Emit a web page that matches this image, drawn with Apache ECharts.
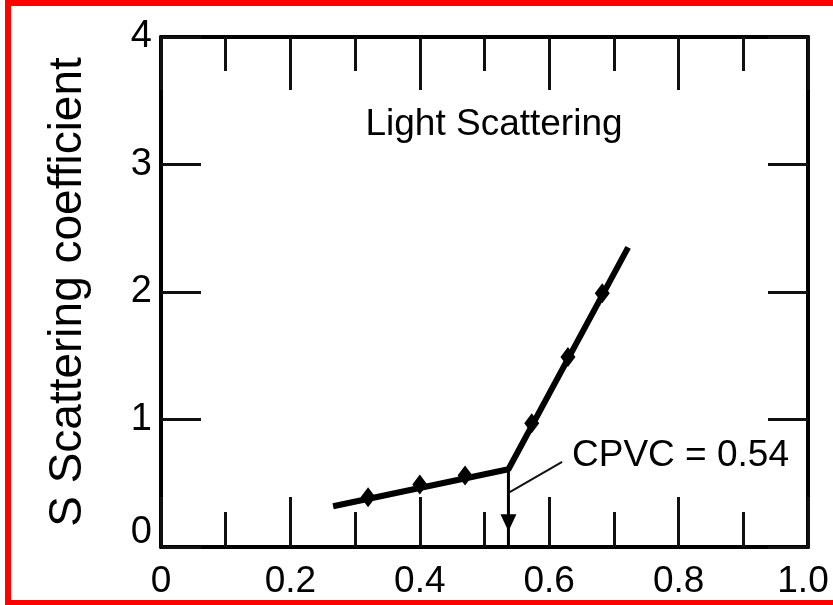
<!DOCTYPE html>
<html><head><meta charset="utf-8">
<script src="https://cdn.jsdelivr.net/npm/echarts@6/dist/echarts.min.js"></script>
<style>html,body{margin:0;padding:0;background:#fff}#c{width:833px;height:605px}</style>
</head><body><div id="c"></div>
<script>
// ---- data ----
const xTickLabels = ['0', '0.2', '0.4', '0.6', '0.8', '1.0'];
const yTickLabels = ['0', '1', '2', '3', '4'];
// measured points (PVC, S)
const pointX = [0.320, 0.400, 0.470, 0.573, 0.629, 0.682];
const pointY = [0.39, 0.49, 0.56, 0.97, 1.49, 1.99];
// two-segment fitted line
const fitX = [0.266, 0.537, 0.722];
const fitY = [0.32, 0.61, 2.35];
// CPVC arrow and leader line
const cpvcX = 0.537;
const arrowHeadY = 0.19;
const leaderX = [0.539, 0.620];
const leaderY = [0.43, 0.667];
const titleText = 'Light Scattering';
const cpvcText = 'CPVC = 0.54';
const yName = 'S Scattering coefficient';

const FONT = 'Liberation Sans, Arial, sans-serif';
const chart = echarts.init(document.getElementById('c'), null, {renderer: 'canvas'});
const axisLine = {show: true, onZero: false, lineStyle: {color: '#000', width: 4}};
const xTick = {show: true, inside: true, length: 50, lineStyle: {color: '#111', width: 3}};
const xMinor = {show: true, splitNumber: 2, length: 35, lineStyle: {color: '#111', width: 3}};
const yTick = {show: true, inside: true, length: 40, lineStyle: {color: '#111', width: 3}};

chart.setOption({
  animation: false,
  backgroundColor: '#fff',
  grid: {left: 161, right: 25, top: 37, bottom: 58, containLabel: false},
  xAxis: [
    {type: 'value', position: 'bottom', min: 0, max: 1, interval: 0.2,
     axisLine, axisTick: xTick, minorTick: xMinor, splitLine: {show: false},
     axisLabel: {show: true, margin: 16, color: '#000', fontSize: 37, fontFamily: FONT,
       formatter: v => {
         const i = Math.round(v / 0.2);
         return i === xTickLabels.length - 1 ? '{r|' + xTickLabels[i] + '}' : xTickLabels[i];
       },
       rich: {r: {fontSize: 37, fontFamily: FONT, color: '#000', padding: [0, 10, 0, 0]}}}},
    {type: 'value', position: 'top', min: 0, max: 1, interval: 0.2,
     axisLine, axisTick: {...xTick, length: 53}, minorTick: {...xMinor, length: 34},
     splitLine: {show: false}, axisLabel: {show: false}}
  ],
  yAxis: [
    {type: 'value', position: 'left', min: 0, max: 4, interval: 1,
     axisLine, axisTick: yTick, splitLine: {show: false},
     name: yName, nameLocation: 'middle', nameRotate: 90, nameGap: 70,
     nameTextStyle: {color: '#000', fontSize: 46, fontFamily: FONT},
     axisLabel: {show: true, margin: 9, color: '#000', fontSize: 38, fontFamily: FONT,
       formatter: v => v === 0 ? '{z|' + yTickLabels[0] + '}' : yTickLabels[v],
       rich: {z: {fontSize: 38, fontFamily: FONT, color: '#000', padding: [0, 0, 28, 0]}}}},
    {type: 'value', position: 'right', min: 0, max: 4, interval: 1,
     axisLine, axisTick: yTick, splitLine: {show: false}, axisLabel: {show: false}}
  ],
  series: [
    {type: 'line', xAxisIndex: 0, yAxisIndex: 0, symbol: 'none',
     lineStyle: {color: '#000', width: 6}, z: 5,
     data: fitX.map((x, i) => [x, fitY[i]])},
    {type: 'scatter', xAxisIndex: 0, yAxisIndex: 0, symbol: 'diamond', symbolSize: [15, 20],
     itemStyle: {color: '#000', opacity: 1}, z: 6,
     data: pointX.map((x, i) => [x, pointY[i]])},
    {type: 'line', xAxisIndex: 0, yAxisIndex: 0, symbol: 'none',
     lineStyle: {color: '#000', width: 3}, z: 4,
     data: [[cpvcX, fitY[1]], [cpvcX, 0]]},
    {type: 'scatter', xAxisIndex: 0, yAxisIndex: 0, symbol: 'triangle', symbolRotate: 180,
     symbolSize: [16, 17], itemStyle: {color: '#000', opacity: 1}, z: 6,
     data: [[cpvcX, arrowHeadY]]},
    {type: 'line', xAxisIndex: 0, yAxisIndex: 0, symbol: 'none',
     lineStyle: {color: '#111', width: 2}, z: 4,
     data: leaderX.map((x, i) => [x, leaderY[i]])}
  ],
  graphic: [
    {type: 'text', x: 494, y: 125, z: 10,
     style: {text: titleText, font: '37px ' + FONT, fill: '#000', textAlign: 'center', textVerticalAlign: 'middle'}},
    {type: 'text', x: 572, y: 456, z: 10,
     style: {text: cpvcText, font: '37px ' + FONT, fill: '#000', textAlign: 'left', textVerticalAlign: 'middle'}},
    {type: 'rect', shape: {x: 5, y: 0, width: 828, height: 6}, style: {fill: '#ff0000'}, z: 20},
    {type: 'rect', shape: {x: 5, y: 0, width: 6, height: 605}, style: {fill: '#ff0000'}, z: 20},
    {type: 'rect', shape: {x: 5, y: 600, width: 828, height: 5}, style: {fill: '#ff0000'}, z: 20}
  ]
});
</script></body></html>
